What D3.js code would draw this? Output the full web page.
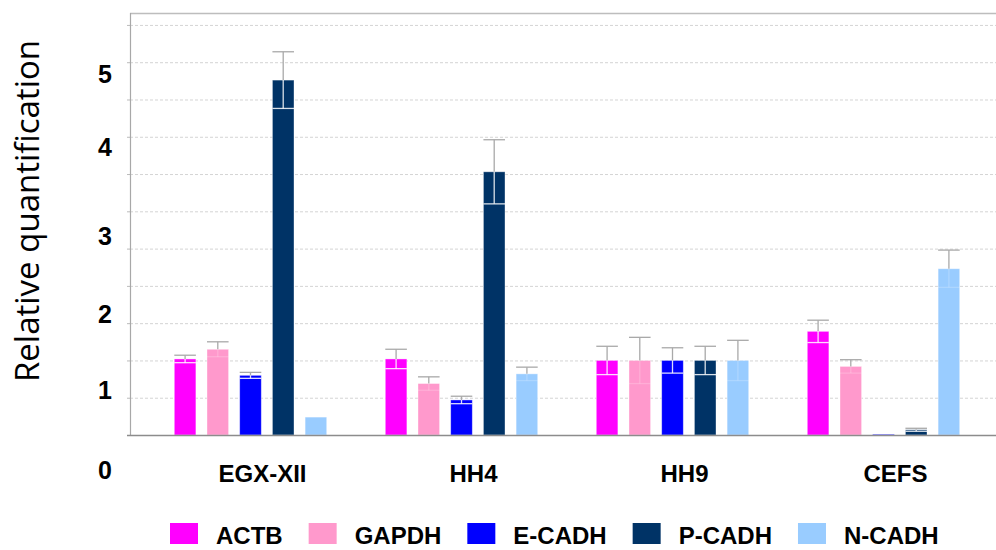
<!DOCTYPE html>
<html>
<head>
<meta charset="utf-8">
<script src="https://cdn.jsdelivr.net/npm/d3@7"></script>
<style>
  html, body { margin: 0; padding: 0; background: #fff; }
  svg { display: block; }
</style>
</head>
<body>
<svg id="chart" width="996" height="550"></svg>
<script>
// ---- data ----
const categories = ["EGX-XII", "HH4", "HH9", "CEFS"];
const genes = ["ACTB", "GAPDH", "E-CADH", "P-CADH", "N-CADH"];
const geneColors = ["#ff00ff", "#ff99cc", "#0000ff", "#003366", "#99ccff"];

const actb  = [1.02, 1.02, 1.00, 1.39];
const gapdh = [1.15, 0.69, 1.00, 0.92];
const ecadh = [0.80, 0.47, 1.00, 0.01];
const pcadh = [4.76, 3.53, 1.00, 0.07];
const ncadh = [0.24, 0.82, 1.00, 2.23];

const actbErr  = [0.05, 0.13, 0.19, 0.15];
const gapdhErr = [0.10, 0.09, 0.31, 0.09];
const ecadhErr = [0.04, 0.05, 0.17, 0.00];
const pcadhErr = [0.38, 0.43, 0.19, 0.02];
const ncadhErr = [0.00, 0.09, 0.27, 0.25];

const yTickLabels = ["0", "1", "2", "3", "4", "5"];
const yTickLabelAt = [-0.48, 0.60, 1.61, 2.66, 3.86, 4.84];
const gridValues = [0.5, 1, 1.5, 2, 2.5, 3, 3.5, 4, 4.5, 5, 5.5];

const seriesValues = [actb, gapdh, ecadh, pcadh, ncadh];
const seriesErrors = [actbErr, gapdhErr, ecadhErr, pcadhErr, ncadhErr];
const lightGenes = ["GAPDH", "N-CADH"];

// ---- layout ----
const svg = d3.select("#chart");
const plotLeft = 130, plotRight = 996, plotTop = 13, plotBottom = 435;

const y = d3.scaleLinear().domain([0, 5.66]).range([plotBottom, plotTop]);
const x0 = d3.scaleBand().domain(categories).range([145, 989])
  .paddingInner(0.225).paddingOuter(0.1125);
const x1 = d3.scaleBand().domain(genes).range([0, x0.bandwidth()])
  .paddingInner(0.34).paddingOuter(0.17);
const color = d3.scaleOrdinal().domain(genes).range(geneColors);

// gridlines
const grid = svg.append("g").attr("transform", `translate(${plotLeft},0)`)
  .call(d3.axisLeft(y).tickValues(gridValues).tickSize(-(plotRight - plotLeft)).tickFormat(""));
grid.select(".domain").remove();
grid.selectAll("line").attr("stroke", "#d4d4d4").attr("stroke-dasharray", "3,2");

// small ticks on the left
const ticks = svg.append("g").attr("transform", `translate(${plotLeft},0)`)
  .call(d3.axisLeft(y).tickValues(gridValues).tickSize(3).tickFormat(""));
ticks.select(".domain").remove();
ticks.selectAll("line").attr("stroke", "#bbb");

// frame
svg.append("line").attr("x1", plotLeft).attr("x2", plotRight)
  .attr("y1", plotTop + 0.5).attr("y2", plotTop + 0.5).attr("stroke", "#bdbdbd").attr("stroke-width", 1.5);
svg.append("line").attr("x1", plotLeft + 0.5).attr("x2", plotLeft + 0.5)
  .attr("y1", plotTop).attr("y2", plotBottom).attr("stroke", "#a8a8a8").attr("stroke-width", 1.2);

// bars
const flat = [];
categories.forEach((c, ci) => genes.forEach((g, gi) => {
  flat.push({ cat: c, gene: g, v: seriesValues[gi][ci], e: seriesErrors[gi][ci] });
}));

const barG = svg.append("g");
barG.selectAll("rect").data(flat).join("rect")
  .attr("x", d => x0(d.cat) + x1(d.gene))
  .attr("y", d => y(d.v))
  .attr("width", x1.bandwidth())
  .attr("height", d => y(0) - y(d.v))
  .attr("fill", d => color(d.gene))
  .attr("stroke", "rgba(255,255,255,0.45)")
  .attr("stroke-width", 0.8);

// error bars
const errG = svg.append("g");
flat.filter(d => d.e > 0).forEach(d => {
  const bx = x0(d.cat) + x1(d.gene), w = x1.bandwidth(), cx = bx + w / 2;
  // upper (grey)
  errG.append("line").attr("x1", cx).attr("x2", cx)
    .attr("y1", y(d.v)).attr("y2", y(d.v + d.e)).attr("stroke", "#a9a9a9").attr("stroke-width", 1.3);
  errG.append("line").attr("x1", bx).attr("x2", bx + w)
    .attr("y1", y(d.v + d.e)).attr("y2", y(d.v + d.e)).attr("stroke", "#a9a9a9").attr("stroke-width", 1.3);
  // lower (white, inside bar)
  const lo = Math.max(0, d.v - d.e);
  const op = lightGenes.includes(d.gene) ? 0.2 : 0.85;
  errG.append("line").attr("x1", cx).attr("x2", cx)
    .attr("y1", y(d.v)).attr("y2", y(lo)).attr("stroke", "#fff").attr("stroke-width", 1.3).attr("opacity", op);
  errG.append("line").attr("x1", bx).attr("x2", bx + w)
    .attr("y1", y(lo)).attr("y2", y(lo)).attr("stroke", "#fff").attr("stroke-width", 1.3).attr("opacity", op);
});

// baseline
svg.append("line").attr("x1", plotLeft - 3).attr("x2", plotRight)
  .attr("y1", plotBottom + 0.5).attr("y2", plotBottom + 0.5).attr("stroke", "#8c8c8c").attr("stroke-width", 1.5);

// y tick labels
const labelAxis = svg.append("g").attr("transform", `translate(${plotLeft},0)`)
  .call(d3.axisLeft(y).tickValues(yTickLabelAt).tickSize(0).tickPadding(18)
    .tickFormat((d, i) => yTickLabels[i]));
labelAxis.select(".domain").remove();
labelAxis.selectAll("text")
  .attr("font-family", "'Liberation Sans', Arial, sans-serif")
  .attr("font-weight", "bold").attr("font-size", 25).attr("fill", "#000");

// y title
svg.append("text")
  .attr("transform", `translate(39,211) rotate(-90)`)
  .attr("text-anchor", "middle")
  .attr("font-family", "'Open Sans', sans-serif")
  .attr("font-size", 33).attr("fill", "#000")
  .text("Relative quantification");

// category labels
svg.append("g").selectAll("text").data(categories).join("text")
  .attr("x", d => x0(d) + x0.bandwidth() / 2 + 12)
  .attr("y", 482)
  .attr("text-anchor", "middle")
  .attr("font-family", "'Liberation Sans', Arial, sans-serif")
  .attr("font-weight", "bold").attr("font-size", 24).attr("fill", "#000")
  .text(d => d);

// legend
const legend = svg.append("g");
let lx = 170;
genes.forEach((g) => {
  const item = legend.append("g");
  item.append("rect").attr("x", lx).attr("y", 523).attr("width", 28).attr("height", 21)
    .attr("fill", color(g));
  const t = item.append("text").attr("x", lx + 46).attr("y", 544)
    .attr("font-family", "'Liberation Sans', Arial, sans-serif")
    .attr("font-weight", "bold").attr("font-size", 24).attr("fill", "#000")
    .text(g);
  lx = lx + 46 + t.node().getComputedTextLength() + 26;
});
</script>
</body>
</html>
